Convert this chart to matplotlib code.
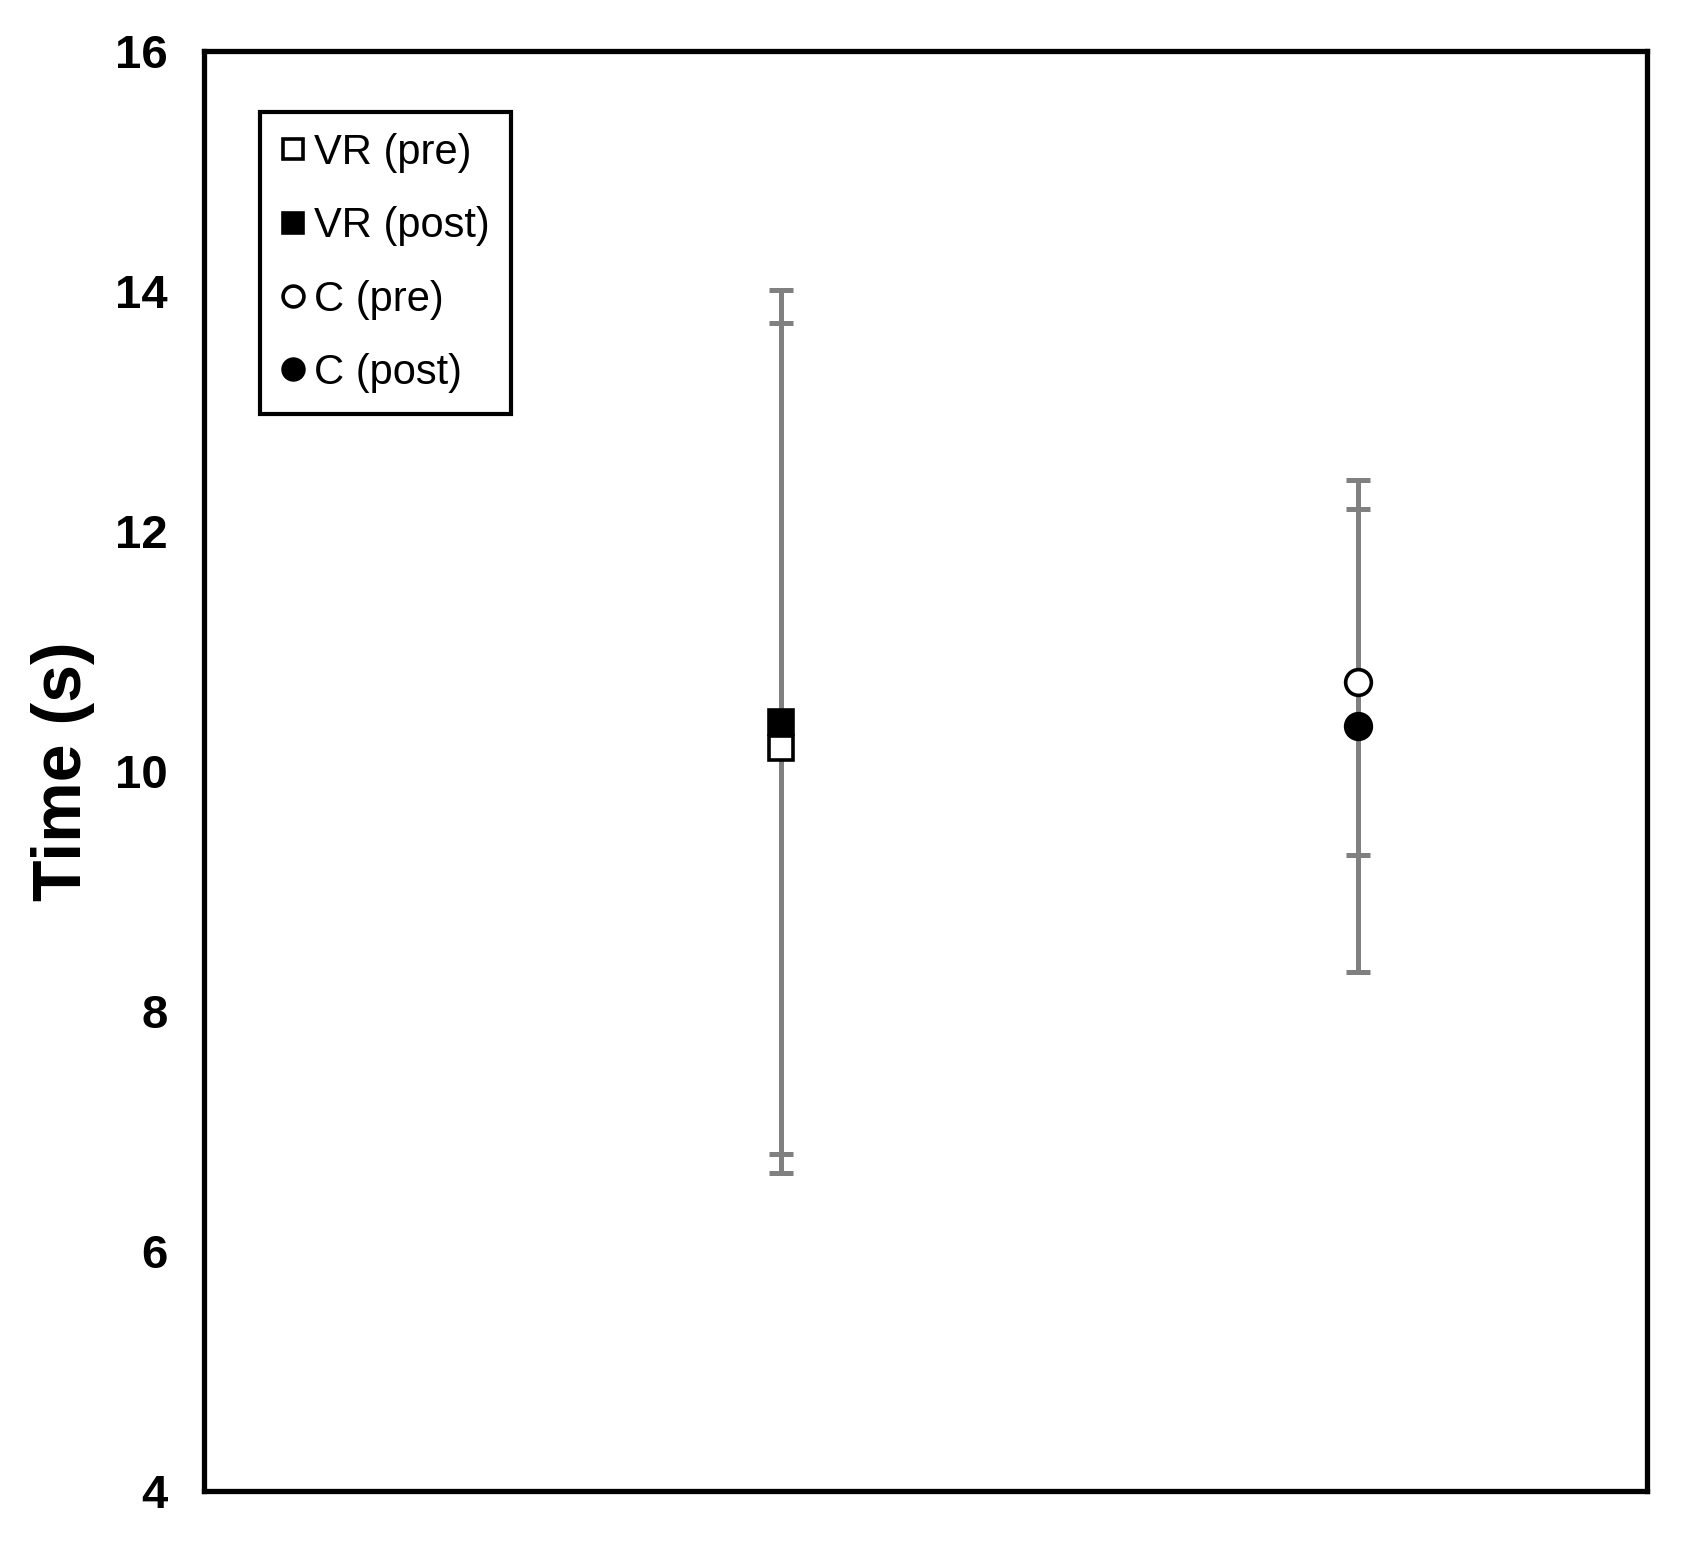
import matplotlib
matplotlib.use("Agg")
import matplotlib.pyplot as plt
from matplotlib.lines import Line2D

plt.rcParams['font.family'] = ['Liberation Sans', 'DejaVu Sans']

# Data
groups = ["VR", "C"]
group_x = [2, 4]
series_labels = ["VR (pre)", "VR (post)", "C (pre)", "C (post)"]
series_x = [2, 2, 4, 4]
means = [10.19, 10.41, 10.74, 10.375]
errors = [3.54, 3.60, 1.44, 2.05]
markers = ["s", "s", "o", "o"]
fills = ["white", "black", "white", "black"]
yticks = [4, 6, 8, 10, 12, 14, 16]

fig = plt.figure(figsize=(16.82, 15.43), dpi=100)
ax = fig.add_axes([204/1682, 1 - 1491/1543, (1647-204)/1682, (1491-51)/1543])

# error bars
ax.errorbar(series_x, means, yerr=errors, fmt='none', ecolor='#808080',
            elinewidth=3.6, capsize=8.3, capthick=3.6, zorder=2)

handles = []
order = [1, 0, 3, 2]
for i in order:
    ms = 17.8 if markers[i] == 's' else 18.5
    ax.plot([series_x[i]], [means[i]], linestyle='none', marker=markers[i],
            markersize=ms, markerfacecolor=fills[i], markeredgecolor='black',
            markeredgewidth=2.6, zorder=3)
for i in range(4):
    ms = 14.5 if markers[i] == 's' else 15
    handles.append(Line2D([], [], linestyle='none', marker=markers[i], markersize=ms,
                          markerfacecolor=fills[i], markeredgecolor='black',
                          markeredgewidth=2.6, label=series_labels[i]))

ax.set_xlim(0, 5)
ax.set_ylim(4, 16)
ax.set_xticks([])
ax.set_yticks(yticks)
ax.set_yticklabels([str(t) for t in yticks], fontsize=34, fontweight='bold')
ax.tick_params(axis='y', length=0, pad=26)
for s in ax.spines.values():
    s.set_linewidth(3.8)
    s.set_color('black')

ax.set_ylabel("Time (s)", fontsize=49, fontweight='bold')
ax.yaxis.set_label_coords(-(204-95)/1443, 0.5)

leg = ax.legend(handles=handles, loc='upper left',
                bbox_to_anchor=((260-204)/1443, 1 - (112-51)/1440),
                fontsize=30, frameon=True, fancybox=False, edgecolor='black',
                framealpha=1, handlelength=0.6, handletextpad=0.2,
                labelspacing=0.8, borderpad=0.5, borderaxespad=0)
leg.get_frame().set_linewidth(3.0)

fig.savefig("out.png", dpi=100)
